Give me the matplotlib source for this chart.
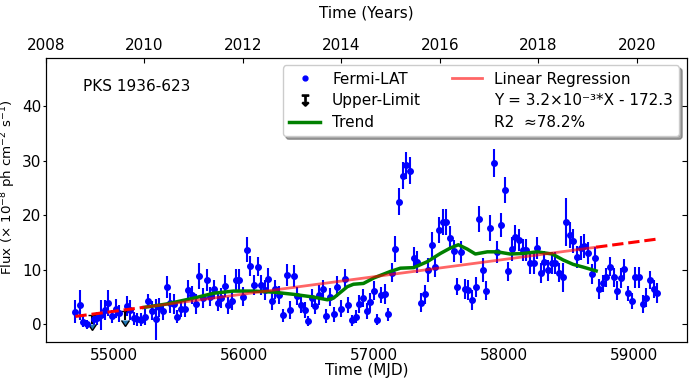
import matplotlib
matplotlib.use('Agg')
import matplotlib.pyplot as plt
from matplotlib.lines import Line2D

# Fermi-LAT light curve (monthly bins)
mjd = [54706, 54739, 54764, 54792, 54849, 54875, 54906, 54933, 54959, 54987,
       55015, 55044, 55100, 55128, 55153, 55182, 55210, 55238, 55266, 55294,
       55325, 55350, 55378, 55407, 55435, 55463, 55488, 55519, 55547, 55573,
       55604, 55629, 55658, 55685, 55714, 55742, 55770, 55798, 55827, 55852,
       55880, 55908, 55936, 55965, 55992, 56021, 56049, 56077, 56105, 56131,
       56159, 56187, 56215, 56243, 56272, 56299, 56328, 56356, 56384, 56412,
       56441, 56468, 56494, 56525, 56550, 56579, 56606, 56635, 56663, 56691,
       56719, 56747, 56775, 56804, 56832, 56860, 56888, 56916, 56944, 56970,
       56998, 57026, 57054, 57082, 57110, 57138, 57164, 57192, 57220, 57248,
       57277, 57305, 57333, 57361, 57389, 57417, 57443, 57471, 57499, 57527,
       57556, 57584, 57612, 57640, 57668, 57696, 57724, 57753, 57781, 57809,
       57834, 57863, 57891, 57919, 57947, 57976, 58003, 58031, 58060, 58085,
       58114, 58142, 58170, 58198, 58226, 58254, 58282, 58310, 58338, 58366,
       58394, 58422, 58451, 58476, 58504, 58532, 58561, 58589, 58617, 58645,
       58674, 58701, 58730, 58758, 58786, 58814, 58842, 58868, 58896, 58924,
       58952, 58981, 59009, 59037, 59065, 59093, 59121, 59149, 59177]

flux = [2.3, 3.5, 0.5, 0.0, 0.9, 1.1, 1.7, 2.6, 3.9, 1.5,
        2.9, 2.0, 3.4, 2.6, 1.1, 0.9, 0.8, 1.4, 4.3, 2.5,
        0.9, 3.1, 2.4, 6.8, 3.9, 3.7, 1.4, 2.9, 2.8, 6.3,
        5.4, 3.7, 8.8, 4.8, 8.1, 5.1, 6.4, 4.0, 4.8, 7.0,
        3.5, 4.3, 8.1, 8.1, 5.1, 13.7, 10.7, 7.2, 10.6, 7.2,
        6.3, 8.3, 4.3, 6.4, 5.4, 1.7, 9.1, 2.6, 8.8, 5.2,
        3.5, 2.6, 0.6, 4.8, 3.4, 5.4, 6.4, 1.5, 5.0, 1.8,
        6.9, 2.9, 8.3, 3.5, 0.7, 1.4, 3.7, 4.8, 2.5, 4.1,
        6.2, 0.8, 5.4, 5.6, 1.8, 9.5, 13.8, 22.5, 27.3, 29.2,
        28.2, 12.2, 11.4, 4.0, 5.5, 10.0, 14.5, 10.6, 17.3, 18.7,
        18.7, 15.9, 13.5, 6.9, 13.2, 6.5, 6.3, 4.5, 6.9, 19.4,
        10.0, 6.2, 17.7, 29.6, 13.3, 18.3, 24.7, 9.7, 13.8, 16.1,
        15.5, 13.7, 13.7, 11.2, 11.3, 14.0, 9.4, 11.5, 9.9, 11.3,
        11.3, 9.5, 8.6, 18.7, 16.4, 15.3, 12.4, 14.0, 14.3, 13.1,
        9.2, 12.1, 6.5, 7.5, 8.6, 10.6, 8.6, 6.2, 8.5, 10.1,
        5.7, 4.3, 8.6, 8.6, 3.7, 4.9, 8.1, 6.5, 5.8]

flux_err = [2.1, 2.8, 1.0, 0.8, 1.0, 1.2, 2.7, 1.8, 2.4, 1.2,
            1.8, 1.5, 1.8, 1.8, 1.2, 1.2, 1.2, 1.5, 1.3, 1.8,
            3.7, 1.8, 1.6, 2.0, 1.8, 1.8, 1.2, 1.5, 1.5, 1.8,
            1.6, 1.8, 2.4, 1.8, 2.0, 1.8, 1.8, 1.6, 1.8, 2.0,
            1.6, 1.6, 2.0, 2.0, 1.8, 2.3, 1.9, 1.8, 1.8, 1.8,
            1.8, 2.0, 1.7, 1.8, 1.7, 1.2, 2.0, 1.6, 2.0, 1.7,
            1.5, 1.5, 1.0, 1.7, 1.5, 1.8, 1.8, 1.3, 1.7, 1.3,
            1.9, 1.5, 1.9, 1.5, 1.0, 1.2, 1.6, 1.7, 1.5, 1.6,
            1.8, 1.0, 1.5, 1.8, 1.2, 1.8, 2.4, 2.5, 2.5, 2.5,
            2.5, 2.0, 2.0, 1.8, 1.8, 2.2, 2.4, 2.0, 2.4, 2.4,
            2.4, 2.2, 2.0, 1.6, 2.0, 1.8, 1.8, 1.8, 1.8, 2.4,
            2.2, 1.8, 2.4, 2.6, 2.0, 2.2, 2.4, 1.8, 2.2, 2.2,
            2.0, 2.0, 2.0, 2.0, 2.0, 2.0, 1.9, 2.0, 1.9, 2.0,
            2.0, 1.8, 2.6, 4.4, 2.4, 2.2, 2.0, 2.2, 2.2, 2.0,
            1.8, 2.0, 1.8, 1.6, 1.8, 1.8, 1.8, 1.8, 1.8, 1.8,
            1.4, 1.5, 2.0, 2.0, 1.6, 1.8, 1.6, 1.7, 1.8]

# upper limits
ul_mjd = [54831, 55084]
ul_flux = [1.7, 2.5]
ul_len = [1.7, 1.7]

# smoothed trend
trend_mjd = [55230, 55400, 55614, 55768, 55921, 56075, 56228, 56382, 56535,
             56642, 56688, 56795, 56842, 56919, 56998, 57126, 57203, 57305,
             57410, 57510, 57587, 57648, 57717, 57779, 57871, 57947, 58047,
             58147, 58254, 58369, 58454, 58530, 58607, 58707]
trend_flux = [3.1, 3.7, 4.8, 5.7, 6.1, 6.1, 5.9, 5.5, 5.0,
              4.5, 4.8, 6.9, 7.35, 7.5, 8.5, 9.7, 10.3, 10.4,
              11.5, 13.0, 14.0, 14.6, 13.8, 12.9, 13.3, 13.3, 12.9,
              13.0, 13.3, 12.9, 11.8, 11.0, 10.5, 9.8]

# linear regression Y = a*X + b
slope = 3.176e-3
intercept = -172.3
fit_mjd = [55230, 58707]
extra_lo = [54706, 55230]
extra_hi = [58707, 59177]


def line(xs):
    return [slope * x + intercept for x in xs]


fig = plt.figure(figsize=(6.91, 3.83), dpi=100)
ax = fig.add_axes([0.0666, 0.107, 0.9276, 0.742])

ax.errorbar(mjd, flux, yerr=flux_err, fmt='o', color='blue', ms=4,
            elinewidth=1.5, capsize=0, zorder=2)
ax.errorbar(ul_mjd, ul_flux, yerr=ul_len, uplims=True, fmt='none',
            ecolor='black', elinewidth=1.5, capsize=3, zorder=2)
ax.plot(trend_mjd, trend_flux, color='green', lw=2.5, zorder=3)
ax.plot(fit_mjd, line(fit_mjd), color='red', alpha=0.6, lw=2, zorder=4)
ax.plot(extra_lo, line(extra_lo), '--', color='red', lw=2.2, zorder=4)
ax.plot(extra_hi, line(extra_hi), '--', color='red', lw=2.2, zorder=4)

ax.set_xlim(54480, 59405)
ax.set_ylim(-3.25, 48.9)
ax.set_xticks([55000, 56000, 57000, 58000, 59000])
ax.set_yticks([0, 10, 20, 30, 40])
ax.tick_params(axis='x', length=0, labelsize=11, pad=4)
ax.tick_params(axis='y', labelsize=11, length=2, pad=1.5)
ax.set_xlabel('Time (MJD)', fontsize=11, labelpad=0)
ax.set_ylabel(r'Flux ($\times$ 10$^{-8}$ ph cm$^{-2}$ s$^{-1}$)', fontsize=9.6)
ax.yaxis.set_label_coords(-0.043, 0.546)

ax.text(0.058, 0.898, 'PKS 1936-623', transform=ax.transAxes,
        fontsize=11, va='center')

# top axis in years
ax2 = ax.twiny()
ax2.set_xlim(2008, 2021.02)
ax2.set_xticks(range(2008, 2021, 2))
ax2.tick_params(axis='x', direction='in', labelsize=11)
ax2.set_xlabel('Time (Years)', fontsize=11, labelpad=15)
ax2.yaxis.set_visible(True)
ax2.tick_params(axis='y', left=False, labelleft=False, right=True,
                labelright=False, direction='in')

handles = [
    Line2D([], [], marker='.', ls='none', color='blue', ms=7),
    Line2D([], [], marker='$\u21a7$', ls='none', color='black', ms=8),
    Line2D([], [], color='green', lw=2.5),
    Line2D([], [], color='red', alpha=0.6, lw=2),
    Line2D([], [], ls='none'),
    Line2D([], [], ls='none'),
]
labels = ['Fermi-LAT', 'Upper-Limit', 'Trend', 'Linear Regression',
          'Y = 3.2\u00d710\u207b\u00b3*X - 172.3', 'R2  \u224878.2%']
ax.legend(handles, labels, ncol=2, loc='upper right', fontsize=11,
          shadow=True, fancybox=True, handlelength=2.0, labelspacing=0.45)

fig.savefig('out.png', dpi=100)
